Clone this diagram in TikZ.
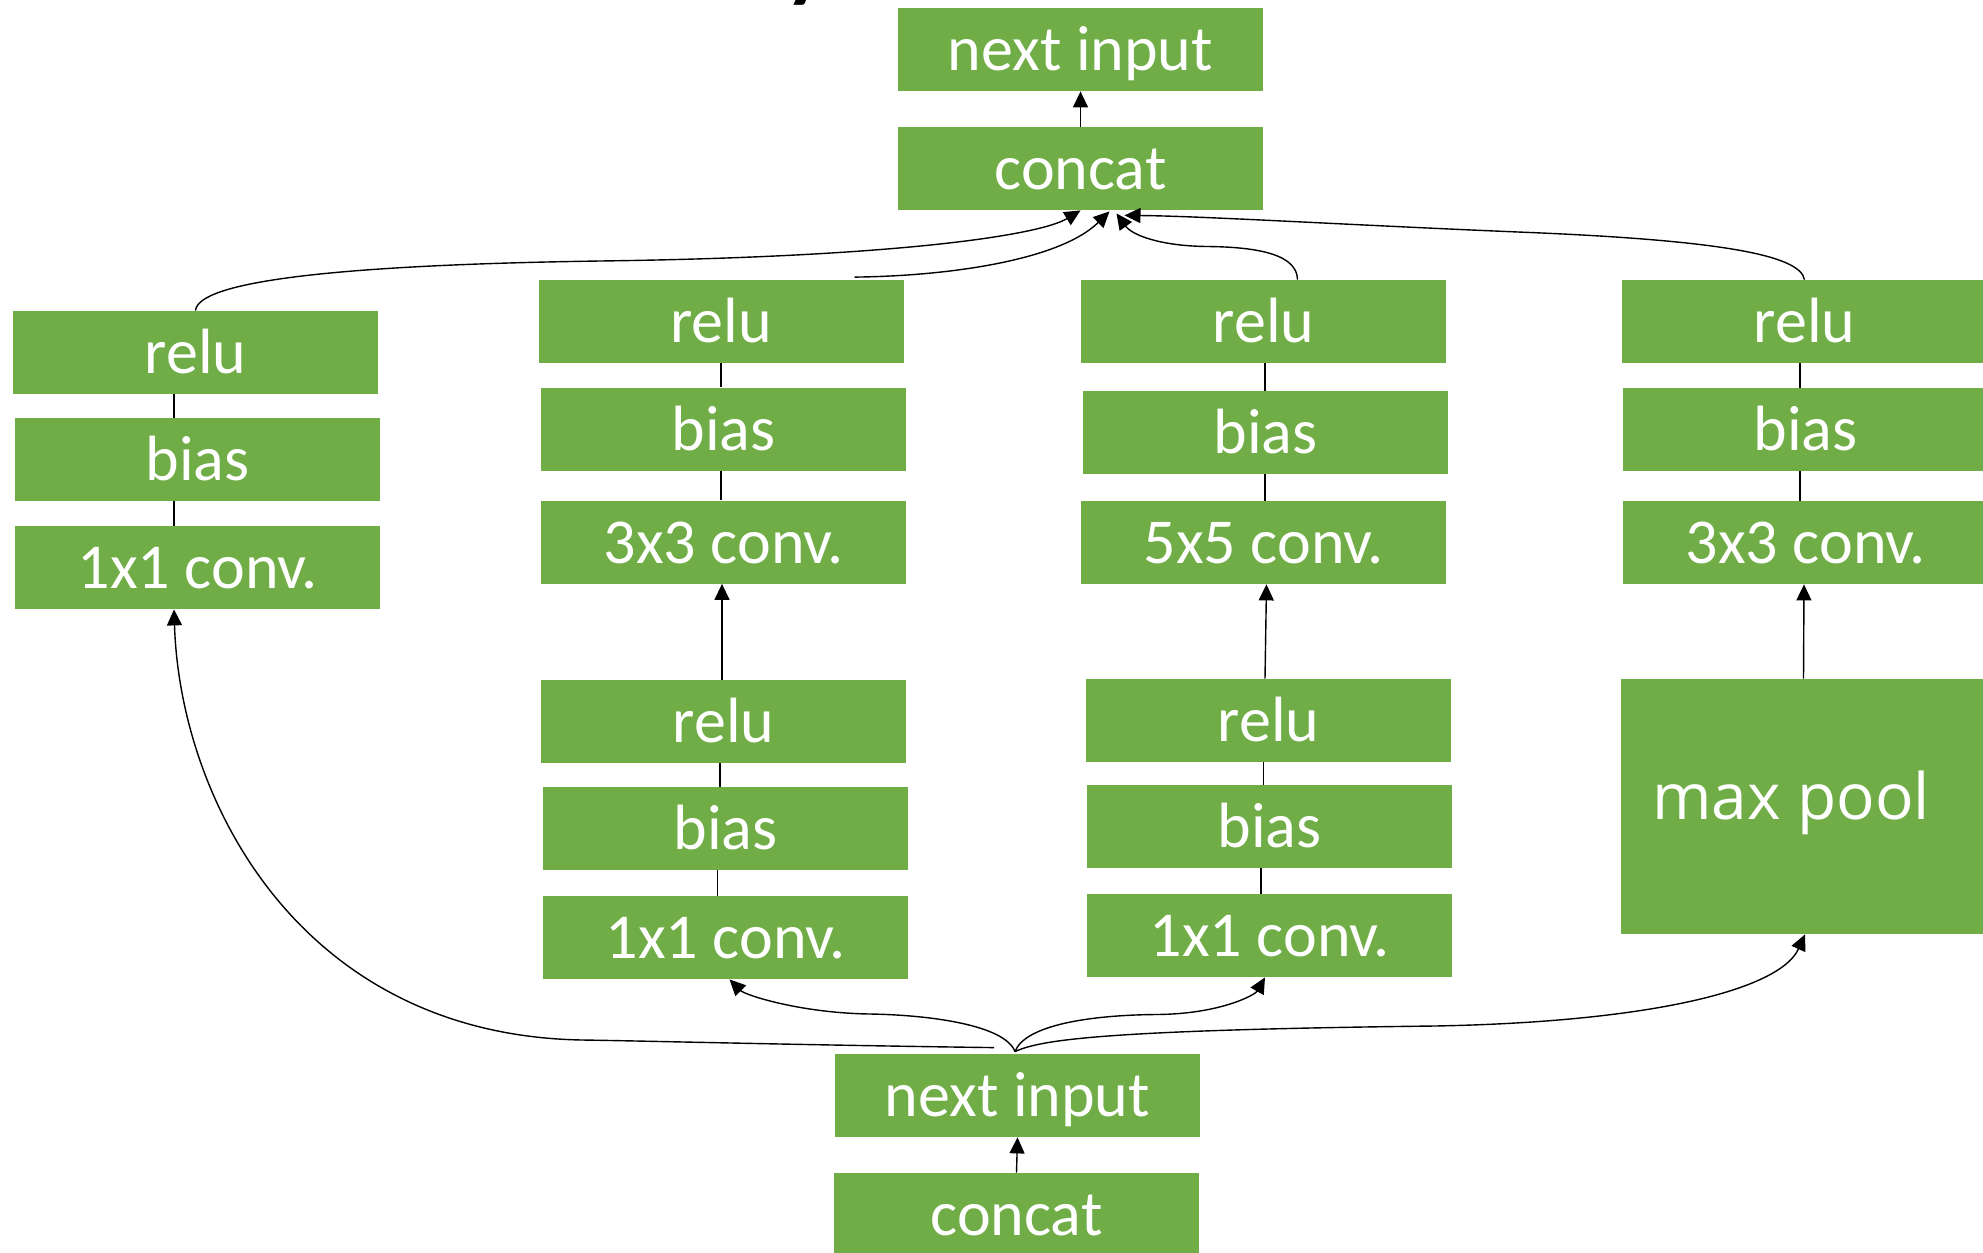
\documentclass[tikz,border=0pt]{standalone}
\usepackage{fontspec}
\setmainfont{Carlito}
\newfontfamily\mpfont{Open Sans}
\usetikzlibrary{arrows.meta}
\definecolor{boxgreen}{HTML}{70AD47}
\begin{document}
\begin{tikzpicture}[x=0.5pt,y=-0.5pt,
  gbox/.style={fill=boxgreen, draw=none, minimum width=182.5pt, minimum height=41.5pt,
    inner sep=0pt, text=white, font=\fontsize{32}{38}\selectfont,
    text height=25pt, text depth=4pt},
  conn/.style={line width=0.7pt, draw=black},
  arr/.style={conn, -{Triangle[length=8pt,width=7.5pt]}}]
\useasboundingbox (0,0) rectangle (1983,1253);
\clip (0,0) rectangle (1983,1253);
% cut-off title glyph
\node[anchor=base west, inner sep=0pt, font=\bfseries\fontsize{44}{50}\selectfont] (ttl) at (785,-9) {y};
% nodes
\node[gbox] (tni) at (1080.5,49.5) {next input};
\node[gbox] (tcc) at (1080.5,168.5) {concat};
\node[gbox] (lrelu) at (195.5,352.5) {relu};
\node[gbox] (lbias) at (197.5,459.5) {bias};
\node[gbox] (lconv) at (197.5,567.5) {1x1 conv.};
\node[gbox] (arelu) at (721,321) {relu};
\node[gbox] (abias) at (723.5,429) {bias};
\node[gbox] (aconv) at (723.5,542) {3x3 conv.};
\node[gbox] (a2relu) at (723.5,721.5) {relu};
\node[gbox] (a2bias) at (725.5,828.5) {bias};
\node[gbox] (a2conv) at (725.5,937.5) {1x1 conv.};
\node[gbox] (brelu) at (1263.5,321.5) {relu};
\node[gbox] (bbias) at (1265.5,432.5) {bias};
\node[gbox] (bconv) at (1263.5,542.5) {5x5 conv.};
\node[gbox] (b2relu) at (1268.5,720.5) {relu};
\node[gbox] (b2bias) at (1269.5,826.5) {bias};
\node[gbox] (b2conv) at (1269.5,935.5) {1x1 conv.};
\node[gbox] (crelu) at (1804.5,321.5) {relu};
\node[gbox] (cbias) at (1805.5,429.5) {bias};
\node[gbox] (cconv) at (1805.5,542.5) {3x3 conv.};
\node[gbox, minimum height=127.5pt] (mp) at (1803.5,806.5) {};
\node[anchor=base, text=white, inner sep=0pt, font=\mpfont\fontsize{32}{38}\selectfont] (mptext) at (1791,819) {max pool};
\node[gbox] (bni) at (1017.5,1095.5) {next input};
\node[gbox] (bcc) at (1016.5,1214.5) {concat};
% plain vertical links
\draw[conn] ([xshift=-10.75pt]lrelu.south) -- ([xshift=-11.75pt]lbias.north);
\draw[conn] ([xshift=-11.75pt]lbias.south) -- ([xshift=-11.75pt]lconv.north);
\draw[conn] (arelu.south) -- ([xshift=-1.25pt]abias.north);
\draw[conn] ([xshift=-1.25pt]abias.south) -- ([xshift=-1.25pt]aconv.north);
\draw[conn] ([xshift=-1.75pt]a2relu.south) -- ([xshift=-2.75pt]a2bias.north);
\draw[conn] ([xshift=-4pt]a2bias.south) -- ([xshift=-4pt]a2conv.north);
\draw[conn] ([xshift=0.75pt]brelu.south) -- ([xshift=-0.25pt]bbias.north);
\draw[conn] ([xshift=-0.25pt]bbias.south) -- ([xshift=0.75pt]bconv.north);
\draw[conn] ([xshift=-2.4pt]b2relu.south) -- ([xshift=-2.9pt]b2bias.north);
\draw[conn] ([xshift=-4.25pt]b2bias.south) -- ([xshift=-4.25pt]b2conv.north);
\draw[conn] ([xshift=-2.25pt]crelu.south) -- ([xshift=-2.75pt]cbias.north);
\draw[conn] ([xshift=-2.75pt]cbias.south) -- ([xshift=-2.75pt]cconv.north);
% straight arrows
\draw[arr] (bcc.north) -- (bni.south);
\draw[arr] (tcc.north) -- (tni.south);
\draw[arr] ([xshift=-0.75pt]a2relu.north) -- ([xshift=-0.75pt]aconv.south);
\draw[arr] ([xshift=-1.75pt]b2relu.north) -- ([xshift=1.5pt]bconv.south);
\draw[arr] (mp.north) -- ([xshift=-0.75pt]cconv.south);
% fan from bottom next input
\coordinate (fan) at ([xshift=-1.25pt,yshift=1pt]bni.north);
\coordinate (fanl) at ([xshift=-11.75pt,yshift=3pt]bni.north);
\draw[arr] (fanl) .. controls (800,1045) and (650,1041) .. (582,1040)
  .. controls (300,1035) and (180,800) .. ([xshift=-11.75pt]lconv.south);
\draw[arr] (fan) .. controls (1005,1025) and (930,1015) .. (870,1014)
  .. controls (800,1013) and (745,995) .. ([xshift=2pt]a2conv.south);
\draw[arr] (fan) .. controls (1025,1025) and (1090,1015) .. (1157,1014.5)
  .. controls (1220,1014) and (1255,995) .. ([xshift=-2.25pt]b2conv.south);
\draw[arr] (fan) .. controls (1040,1040) and (1100,1030) .. (1435,1026)
  .. controls (1650,1022) and (1780,990) .. ([xshift=0.75pt]mp.south);
% branches into top concat
\draw[arr] (lrelu.north) .. controls (198,282) and (330,265) .. (600,261)
  .. controls (900,257) and (1040,235) .. (tcc.south);
\draw[arr] ([xshift=66.75pt,yshift=1pt]arelu.north) .. controls (950,276) and (1060,260) .. ([xshift=14.5pt,yshift=-0.5pt]tcc.south);
\draw[arr] ([xshift=17pt]brelu.north) .. controls (1297,255) and (1260,247) .. (1207,246.5)
  .. controls (1160,246) and (1132,235) .. ([xshift=18pt,yshift=-1.5pt]tcc.south);
\draw[arr] (crelu.north) .. controls (1800,255) and (1720,240) .. (1518,232)
  .. controls (1350,225) and (1200,216) .. ([xshift=22pt,yshift=-2.5pt]tcc.south);
\end{tikzpicture}
\end{document}
